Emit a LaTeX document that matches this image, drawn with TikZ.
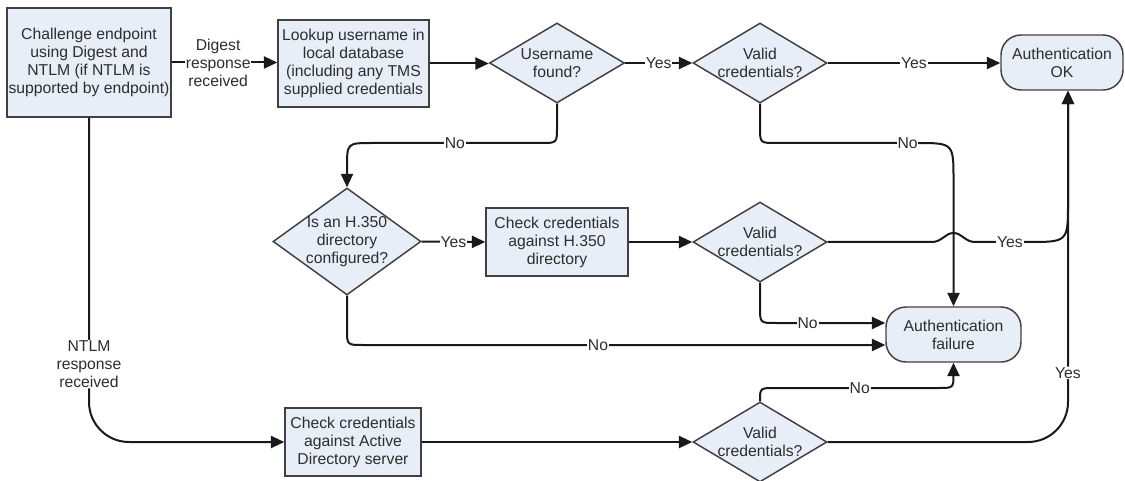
\documentclass[tikz,border=0pt]{standalone}
\usepackage{fontspec}
\setmainfont{Liberation Sans}
\usetikzlibrary{shapes.geometric,arrows.meta}
\definecolor{boxfill}{RGB}{232,238,247}
\definecolor{boxline}{RGB}{64,64,64}
\definecolor{txt}{RGB}{45,45,45}
\begin{document}
\begin{tikzpicture}[x=0.75pt,y=-0.75pt,
  every node/.style={font=\fontsize{11.8pt}{13.5pt}\selectfont, text=txt},
  proc/.style={draw=boxline, fill=boxfill, line width=1.1pt, inner sep=0pt, align=center},
  term/.style={proc, rounded corners=15pt},
  dec/.style={diamond, draw=boxline, fill=boxfill, line width=1.1pt, inner sep=0pt},
  dtext/.style={align=center, inner sep=0pt},
  conn/.style={draw=black!90, line width=1.5pt, -{Triangle[length=10pt,width=9pt]}},
  lbl/.style={fill=white, inner sep=0.6pt, align=center},
]
\useasboundingbox (0,0) rectangle (1125,481);

% nodes
\node[proc, minimum width=123pt, minimum height=81.75pt] (A) at (89,62.5) {Challenge endpoint\\using Digest and\\NTLM (if NTLM is\\supported by endpoint)};
\node[proc, minimum width=113.25pt, minimum height=65.25pt] (B) at (353.5,63.5) {Lookup username in\\local database\\(including any TMS\\supplied credentials};
\node[dec, minimum width=101.25pt, minimum height=60pt] (C) at (557,63) {};
\node[dtext] (Ct) at (C) {Username\\found?};
\node[dec, minimum width=100.5pt, minimum height=60pt] (D) at (760,63) {};
\node[dtext] (Dt) at (D) {Valid\\credentials?};
\node[term, minimum width=91.5pt, minimum height=41.25pt] (E) at (1062,62.5) {Authentication\\OK};
\node[dec, minimum width=111pt, minimum height=80.25pt] (F) at (347,241.5) {};
\node[dtext] (Ft) at (F) {Is an H.350\\directory\\configured?};
\node[proc, minimum width=106.5pt, minimum height=51pt] (G) at (557,242) {Check credentials\\against H.350\\directory};
\node[dec, minimum width=100.5pt, minimum height=60pt] (H) at (760,242) {};
\node[dtext] (Ht) at (H) {Valid\\credentials?};
\node[term, minimum width=101.25pt, minimum height=41.25pt] (I) at (953.5,334.5) {Authentication\\failure};
\node[proc, minimum width=102pt, minimum height=51pt] (J) at (353,442) {Check credentials\\against Active\\Directory server};
\node[dec, minimum width=100.5pt, minimum height=60pt] (K) at (760,442) {};
\node[dtext] (Kt) at (K) {Valid\\credentials?};

\coordinate (vx) at (1068,202);

% connectors
\draw[conn] (A.east) -- node[lbl,pos=0.44]{Digest\\response\\received} (A.east -| B.west);
\draw[conn] (B.east) -- (B.east -| C.west);
\draw[conn] (C.east) -- node[lbl]{Yes} (D.west);
\draw[conn] (D.east) -- node[lbl]{Yes} (E.west |- D.east);
\draw[conn] (C.south) -- (557,127) .. controls (557,143) .. (541,143) -- node[lbl,pos=0.51]{No} (372,143) .. controls (347,143) .. (347,168) -- (F.north);
\draw[conn] (D.south) -- (760,127) .. controls (760,143) .. (776,143) -- node[lbl,pos=0.94]{No} (916,143) .. controls (953.5,143) .. (953.5,180) -- (I.north);
\draw[conn] (F.east) -- node[lbl]{Yes} (G.west);
\draw[conn] (G.east) -- (H.west);
\draw[conn] (H.east) -- (932,242) .. controls (942,242) and (945,233) .. (953.5,233) .. controls (962,233) and (965,242) .. (975,242) -- node[lbl,pos=0.66]{Yes} (1028,242) .. controls (1068,242) .. (vx) -- (E.south -| vx);
\draw[conn] (H.south) -- (760,307) .. controls (760,323) .. (776,323) -- node[lbl,pos=0.29]{No} (I.west |- 0,323);
\draw[conn] (F.south) -- (347,329) .. controls (347,345) .. (363,345) -- node[lbl,pos=0.45]{No} (I.west |- 0,345);
\draw[conn, rounded corners=30pt] (A.south) |- node[lbl,pos=0.38]{NTLM\\response\\received} (J.west);
\draw[conn] (J.east) -- (K.west);
\draw[conn] (K.north) .. controls (760,388) .. (775,388) -- node[lbl,pos=0.52]{No} (938,388) .. controls (953.5,388) .. (953.5,374) -- (I.south);
\draw[conn, rounded corners=30pt] (K.east) -| node[lbl,pos=0.644]{Yes} (vx) -- (E.south -| vx);
\end{tikzpicture}
\end{document}
